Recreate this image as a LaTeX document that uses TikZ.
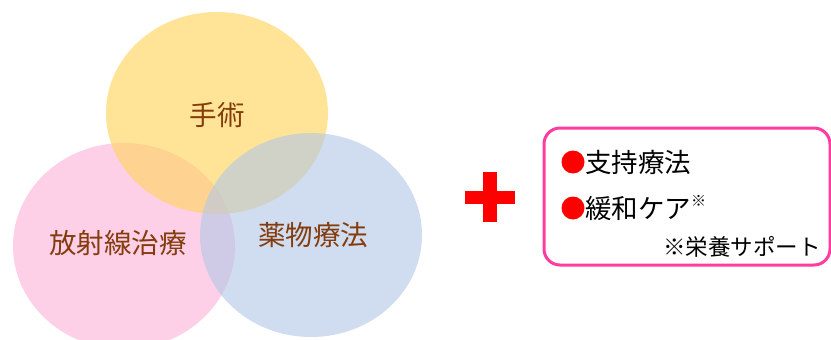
\documentclass[tikz,border=0pt]{standalone}
\usepackage{fontspec}
\setmainfont{Noto Sans CJK JP}
\begin{document}
\begin{tikzpicture}[x=1pt,y=-1pt,
  venn/.style={fill opacity=0.62, draw=none},
  vlabel/.style={text=vbrown, font=\fontsize{27.5}{30}\selectfont, inner sep=0pt},
  btext/.style={font=\fontsize{26.5}{30}\selectfont, inner sep=0pt, anchor=west},
  bullet/.style={circle, fill=red, minimum size=23pt, inner sep=0pt}]
\definecolor{vyellow}{RGB}{255,212,90}
\definecolor{vpink}{RGB}{252,180,218}
\definecolor{vblue}{RGB}{180,200,230}
\definecolor{vbrown}{RGB}{132,60,12}
\definecolor{boxpink}{RGB}{255,60,160}
\useasboundingbox (0,0) rectangle (831,340);
\fill[white] (0,0) rectangle (831,340);
\fill[vpink, venn] (124,246) ellipse [x radius=111, y radius=103];
\fill[vyellow, venn] (217,113) ellipse [x radius=111, y radius=101];
\fill[vblue, venn] (311,235) ellipse [x radius=111, y radius=102];
\node[vlabel] (shujutsu) at (217,115) {手術};
\node[vlabel] (hoshasen) at (118,243) {放射線治療};
\node[vlabel] (yakubutsu) at (313,235) {薬物療法};
\fill[red] (483,172) rectangle (497,222);
\fill[red] (465,191) rectangle (515,204);
\draw[boxpink, line width=3pt, rounded corners=16pt] (544,128) rectangle (830,265);
\node[bullet] (b1) at (573,162) {};
\node[btext] (t1) at (585,162) {支持療法};
\node[bullet] (b2) at (573,208) {};
\node[btext] (t2) at (585,208) {緩和ケア\raisebox{0.45em}{\fontsize{15}{16}\selectfont ※}};
\node[font=\fontsize{22.5}{25}\selectfont, inner sep=0pt, anchor=east] (note) at (821,247) {※栄養サポート};
\end{tikzpicture}
\end{document}
